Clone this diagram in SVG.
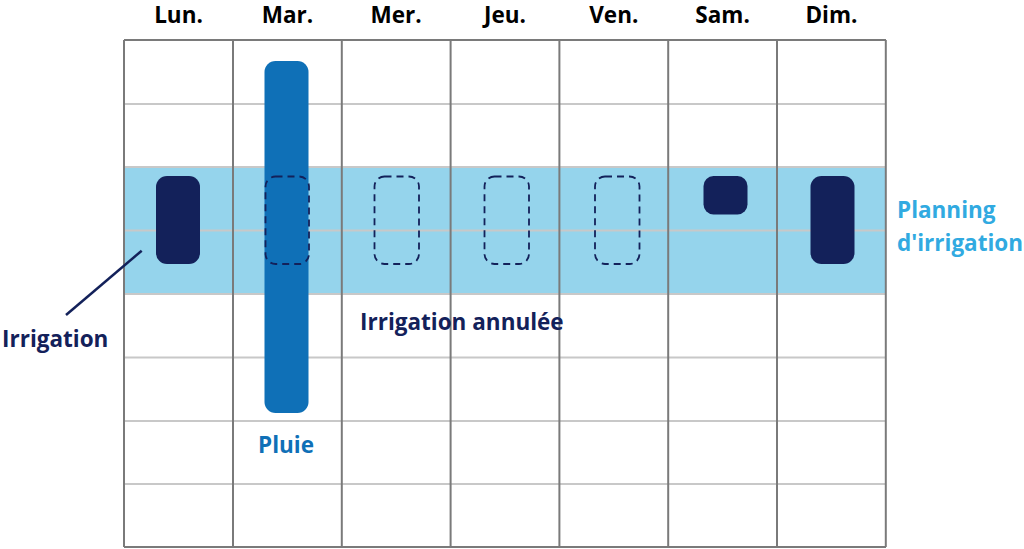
<svg xmlns="http://www.w3.org/2000/svg" width="1024" height="549" viewBox="0 0 1024 549">
<style>
.t{font-family:"Open Sans","Liberation Sans",sans-serif;font-weight:bold;font-size:22.5px}
.day{fill:#000;text-anchor:middle}
.vl{stroke:#7a7a7a;stroke-width:2}
.hl{stroke:#c8c8c8;stroke-width:2}
.irr{fill:#13215a}
.cancel{fill:none;stroke:#13215a;stroke-width:1.8;stroke-dasharray:7 5}
</style>
<rect width="1024" height="549" fill="#fff"/>
<g id="band"><rect x="124" y="167" width="762" height="127" fill="#95d4ec"/></g>
<g id="grid">
<line class="hl" x1="124" y1="104" x2="886" y2="104"/>
<line class="hl" x1="124" y1="230.5" x2="886" y2="230.5"/>
<line class="hl" x1="124" y1="167" x2="886" y2="167"/>
<line class="hl" x1="124" y1="294" x2="886" y2="294"/>
<line class="hl" x1="124" y1="357.5" x2="886" y2="357.5"/>
<line class="hl" x1="124" y1="421" x2="886" y2="421"/>
<line class="hl" x1="124" y1="484" x2="886" y2="484"/>
<line class="vl" x1="124" y1="40" x2="886" y2="40"/>
<line class="vl" x1="124" y1="547" x2="886" y2="547"/>
<line class="vl" x1="124" y1="40" x2="124" y2="547"/>
<line class="vl" x1="233" y1="40" x2="233" y2="547"/>
<line class="vl" x1="341.8" y1="40" x2="341.8" y2="547"/>
<line class="vl" x1="450.6" y1="40" x2="450.6" y2="547"/>
<line class="vl" x1="559.4" y1="40" x2="559.4" y2="547"/>
<line class="vl" x1="668.2" y1="40" x2="668.2" y2="547"/>
<line class="vl" x1="777" y1="40" x2="777" y2="547"/>
<line class="vl" x1="885.8" y1="40" x2="885.8" y2="547"/>
</g>
<g id="headers">
<text class="t day" x="178.5" y="23">Lun.</text>
<text class="t day" x="287.4" y="23">Mar.</text>
<text class="t day" x="396.2" y="23">Mer.</text>
<text class="t day" x="505" y="23">Jeu.</text>
<text class="t day" x="613.8" y="23">Ven.</text>
<text class="t day" x="722.6" y="23">Sam.</text>
<text class="t day" x="831.4" y="23">Dim.</text>
</g>
<g id="rain"><rect x="264.5" y="61" width="44" height="352" rx="11" fill="#0f70b7"/></g>
<g id="irrigation-lun"><rect class="irr" x="156" y="176" width="44" height="88" rx="11"/></g>
<g id="irrigation-sam"><rect class="irr" x="703.5" y="176" width="44" height="38.5" rx="10"/></g>
<g id="irrigation-dim"><rect class="irr" x="810.5" y="176" width="44" height="88" rx="11"/></g>
<g id="cancelled">
<rect class="cancel" x="265.5" y="176.5" width="43.5" height="87.5" rx="10"/>
<rect class="cancel" x="374.5" y="176.5" width="44.5" height="87.5" rx="10"/>
<rect class="cancel" x="484.5" y="176.5" width="44.5" height="87.5" rx="10"/>
<rect class="cancel" x="595" y="176.5" width="44.5" height="87.5" rx="10"/>
</g>
<g id="connectors"><line x1="141.7" y1="250.7" x2="66" y2="315" stroke="#13215a" stroke-width="2.5"/></g>
<g id="labels">
<text class="t" x="2" y="347" fill="#13215a">Irrigation</text>
<text class="t" x="360" y="330" fill="#13215a">Irrigation annulée</text>
<text class="t" x="258" y="453" fill="#0f70b7">Pluie</text>
<text class="t" x="897" y="218" fill="#31aae1">Planning</text>
<text class="t" x="897" y="250.5" fill="#31aae1">d'irrigation</text>
</g>
</svg>
